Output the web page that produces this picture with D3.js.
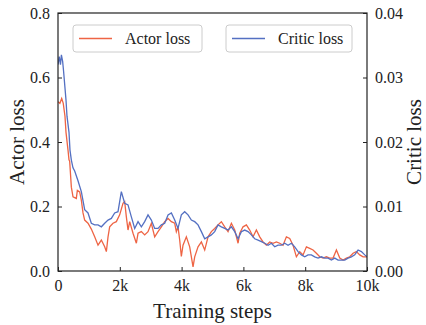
<!DOCTYPE html>
<html>
<head>
<meta charset="utf-8">
<script src="https://cdn.jsdelivr.net/npm/d3@7"></script>
<style>
  body { margin: 0; background: #fff; }
  svg text { font-family: "Liberation Serif", "DejaVu Serif", serif; fill: #222; }
</style>
</head>
<body>
<div id="chart"></div>
<script>
// values, step -> loss
const actorSteps = [
  0, 60, 120, 170, 226, 259, 324, 356, 378, 432, 486, 593, 626, 701, 755, 809, 863, 971,
  1079, 1187, 1295, 1403, 1511, 1565, 1619, 1672, 1780, 1888, 1996, 2104, 2158, 2212, 2266,
  2320, 2428, 2536, 2590, 2698, 2805, 2913, 3021, 3129, 3237, 3345, 3453, 3561, 3669, 3777,
  3830, 3884, 3938, 3992, 4046, 4154, 4262, 4370, 4424, 4532, 4640, 4748, 4856, 4963, 5071,
  5179, 5287, 5395, 5503, 5611, 5719, 5827, 5881, 5989, 6097, 6204, 6312, 6420, 6528, 6636,
  6744, 6852, 6960, 7068, 7175, 7283, 7391, 7499, 7607, 7715, 7823, 7931, 8039, 8146, 8254,
  8362, 8470, 8578, 8686, 8794, 8902, 9010, 9118, 9226, 9334, 9442, 9550, 9657, 9765, 9873,
  10000
];
const actorLoss = [
  0.525, 0.52, 0.535, 0.52, 0.48, 0.43, 0.375, 0.345, 0.34, 0.26, 0.23, 0.225, 0.25, 0.245,
  0.22, 0.18, 0.158, 0.148, 0.13, 0.106, 0.08, 0.096, 0.075, 0.06, 0.106, 0.137, 0.148, 0.153,
  0.174, 0.21, 0.215, 0.168, 0.127, 0.153, 0.117, 0.086, 0.117, 0.122, 0.112, 0.122, 0.148,
  0.106, 0.122, 0.137, 0.153, 0.163, 0.153, 0.148, 0.122, 0.137, 0.096, 0.045, 0.08, 0.106,
  0.075, 0.013, 0.044, 0.075, 0.09, 0.065, 0.106, 0.122, 0.132, 0.143, 0.153, 0.137, 0.122,
  0.148, 0.127, 0.086, 0.117, 0.137, 0.143, 0.127, 0.106, 0.127, 0.106, 0.09, 0.08, 0.09,
  0.086, 0.09, 0.086, 0.08, 0.106, 0.101, 0.08, 0.044, 0.06, 0.05, 0.075, 0.07, 0.065, 0.055,
  0.044, 0.04, 0.044, 0.04, 0.04, 0.065, 0.04, 0.034, 0.04, 0.044, 0.055, 0.06, 0.05, 0.044,
  0.044
];

const criticSteps = [
  0, 40, 80, 110, 150, 180, 259, 291, 356, 388, 432, 485, 540, 647, 755, 863, 971, 1079,
  1187, 1295, 1403, 1511, 1619, 1726, 1834, 1942, 2050, 2158, 2266, 2374, 2482, 2590, 2698,
  2805, 2913, 3021, 3129, 3237, 3345, 3453, 3561, 3669, 3777, 3884, 3992, 4100, 4208, 4316,
  4424, 4532, 4640, 4748, 4856, 4963, 5071, 5179, 5287, 5395, 5503, 5611, 5719, 5827, 5935,
  6042, 6150, 6258, 6366, 6474, 6582, 6690, 6798, 6906, 7014, 7121, 7229, 7337, 7445, 7553,
  7661, 7769, 7877, 7985, 8092, 8200, 8308, 8416, 8524, 8632, 8740, 8848, 8956, 9064, 9172,
  9280, 9388, 9495, 9603, 9711, 9819, 9927, 10000
];
const criticLoss = [
  0.032, 0.03325, 0.032, 0.0335, 0.0325, 0.031, 0.0265, 0.024, 0.0215, 0.01875, 0.0172,
  0.016, 0.0155, 0.014, 0.0123, 0.0095, 0.009, 0.0074, 0.00715, 0.00715, 0.00685, 0.0074,
  0.0079, 0.00815, 0.009, 0.0092, 0.0123, 0.0105, 0.01025, 0.0084, 0.0066, 0.00765, 0.00685,
  0.00765, 0.0087, 0.0079, 0.0066, 0.0066, 0.00715, 0.0074, 0.0087, 0.009, 0.0079, 0.0066,
  0.0087, 0.0092, 0.0087, 0.0079, 0.00765, 0.00715, 0.0061, 0.005, 0.0053, 0.0056, 0.0061,
  0.00715, 0.00685, 0.0066, 0.00635, 0.00685, 0.0061, 0.005, 0.0061, 0.00635, 0.0061, 0.0056,
  0.005, 0.0048, 0.00455, 0.0043, 0.004, 0.0043, 0.00375, 0.004, 0.004, 0.0043, 0.004, 0.0043,
  0.00375, 0.003, 0.0025, 0.0022, 0.0025, 0.0025, 0.0022, 0.002, 0.0022, 0.002, 0.002, 0.0017,
  0.002, 0.0017, 0.0017, 0.0017, 0.002, 0.0022, 0.0025, 0.00325, 0.003, 0.0025, 0.0022
];

const xTicks = [0, 2000, 4000, 6000, 8000, 10000];
const xTickLabels = ["0", "2k", "4k", "6k", "8k", "10k"];
const actorTicks = [0, 0.2, 0.4, 0.6, 0.8];
const criticTicks = [0, 0.01, 0.02, 0.03, 0.04];

const actorColor = "#ee6444";
const criticColor = "#5470c2";
const serif = "'Liberation Serif', 'DejaVu Serif', serif";

const W = 426, H = 325;
const margin = { top: 13, right: 59, bottom: 54, left: 58 };
const width = W - margin.left - margin.right;
const height = H - margin.top - margin.bottom;

const svg = d3.select("#chart").append("svg")
  .attr("width", W)
  .attr("height", H);

const g = svg.append("g")
  .attr("transform", `translate(${margin.left},${margin.top})`);

g.append("clipPath").attr("id", "clip")
  .append("rect").attr("width", width).attr("height", height);

const plot = g.append("g").attr("clip-path", "url(#clip)");

const x = d3.scaleLinear().domain([0, 10000]).range([0, width]);
const yA = d3.scaleLinear().domain([0, 0.8]).range([height, 0]);
const yC = d3.scaleLinear().domain([0, 0.04]).range([height, 0]);

plot.append("path")
  .datum(actorSteps.map((s, i) => [s, actorLoss[i]]))
  .attr("fill", "none")
  .attr("stroke", actorColor)
  .attr("stroke-width", 1.3)
  .attr("d", d3.line().x(d => x(d[0])).y(d => yA(d[1])));

plot.append("path")
  .datum(criticSteps.map((s, i) => [s, criticLoss[i]]))
  .attr("fill", "none")
  .attr("stroke", criticColor)
  .attr("stroke-width", 1.3)
  .attr("d", d3.line().x(d => x(d[0])).y(d => yC(d[1])));

// frame
g.append("rect")
  .attr("width", width)
  .attr("height", height)
  .attr("fill", "none")
  .attr("stroke", "#222")
  .attr("stroke-width", 1.2);

function styleAxis(sel) {
  sel.attr("font-family", serif).attr("font-size", 16);
  sel.select(".domain").remove();
  sel.selectAll("line").attr("stroke", "#222").attr("stroke-width", 1);
  sel.selectAll("text")
    .attr("font-family", serif)
    .attr("font-size", 16)
    .attr("fill", "#222");
}

g.append("g")
  .attr("transform", `translate(0,${height})`)
  .call(d3.axisBottom(x).tickValues(xTicks)
    .tickFormat((d, i) => xTickLabels[i])
    .tickSizeInner(-4).tickSizeOuter(0).tickPadding(9))
  .call(styleAxis);

g.append("g")
  .call(d3.axisLeft(yA).tickValues(actorTicks)
    .tickFormat(d3.format(".1f"))
    .tickSizeInner(-4).tickSizeOuter(0).tickPadding(8))
  .call(styleAxis);

g.append("g")
  .attr("transform", `translate(${width},0)`)
  .call(d3.axisRight(yC).tickValues(criticTicks)
    .tickFormat(d3.format(".2f"))
    .tickSizeInner(-4).tickSizeOuter(0).tickPadding(8))
  .call(styleAxis);

// axis titles
g.append("text")
  .attr("x", width / 2)
  .attr("y", height + 47)
  .attr("text-anchor", "middle")
  .style("font-size", "21px")
  .text("Training steps");

g.append("text")
  .attr("transform", "rotate(-90)")
  .attr("x", -height / 2)
  .attr("y", -34)
  .attr("text-anchor", "middle")
  .style("font-size", "21px")
  .text("Actor loss");

g.append("text")
  .attr("transform", "rotate(-90)")
  .attr("x", -height / 2)
  .attr("y", width + 54)
  .attr("text-anchor", "middle")
  .style("font-size", "21px")
  .text("Critic loss");

// legends
const legends = [
  { label: "Actor loss", color: actorColor, x: 15, w: 129 },
  { label: "Critic loss", color: criticColor, x: 168, w: 126 }
];

const lg = g.selectAll(".legend")
  .data(legends)
  .join("g")
  .attr("class", "legend")
  .attr("transform", d => `translate(${d.x},12)`);

lg.append("rect")
  .attr("width", d => d.w)
  .attr("height", 27)
  .attr("rx", 3)
  .attr("fill", "#fff")
  .attr("fill-opacity", 0.8)
  .attr("stroke", "#ccc")
  .attr("stroke-width", 1);

lg.append("line")
  .attr("x1", 6).attr("x2", 39)
  .attr("y1", 13.5).attr("y2", 13.5)
  .attr("stroke", d => d.color)
  .attr("stroke-width", 1.6);

lg.append("text")
  .attr("x", 52)
  .attr("y", 19)
  .style("font-size", "16px")
  .text(d => d.label);
</script>
</body>
</html>
